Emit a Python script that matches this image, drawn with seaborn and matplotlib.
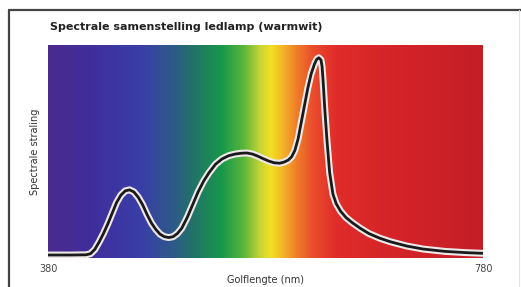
import numpy as np
import pandas as pd
import matplotlib.pyplot as plt
import matplotlib.patheffects as pe
from matplotlib.colors import LinearSegmentedColormap
from matplotlib.lines import Line2D
import seaborn as sns

## spectrum curve (wavelength in nm, relative radiance)
wavelength = [380, 400, 415, 419, 423, 427, 431, 435, 439, 443, 447, 451, 455, 459, 463,
              467, 471, 475, 479, 483, 487, 491, 495, 499, 503, 508, 513, 518, 523, 528,
              534, 540, 546, 552, 558, 563, 568, 573, 578, 583, 588, 593, 597, 601, 604,
              607, 610, 613, 616, 619, 622, 625, 627, 629, 631, 632, 633, 634.5, 636.5,
              639, 642, 645, 649, 654, 660, 667, 675, 685, 695, 710, 725, 745, 765, 780]
radiance = [0.014, 0.014, 0.015, 0.02, 0.04, 0.075, 0.115, 0.16, 0.21, 0.26, 0.295, 0.315,
            0.32, 0.31, 0.285, 0.25, 0.205, 0.165, 0.135, 0.112, 0.1, 0.096, 0.1, 0.115,
            0.14, 0.19, 0.25, 0.31, 0.36, 0.4, 0.44, 0.465, 0.48, 0.488, 0.492, 0.493,
            0.488, 0.478, 0.466, 0.455, 0.447, 0.445, 0.45, 0.46, 0.475, 0.505, 0.56, 0.64,
            0.72, 0.8, 0.865, 0.91, 0.932, 0.94, 0.93, 0.9, 0.83, 0.7, 0.554, 0.4, 0.3,
            0.255, 0.22, 0.19, 0.165, 0.14, 0.115, 0.093, 0.076, 0.056, 0.042, 0.031,
            0.025, 0.022]

## colour stops of the background rainbow
stop_nm = [380, 420, 465, 495, 518, 540, 560, 575, 585, 596, 608, 624, 645, 700, 780]
stop_colors = ["#4a2b8e", "#402e9c", "#3a3ea8", "#2e5a88", "#1f7a62", "#18984a", "#5ab63a",
               "#c6d435", "#f2e022", "#f4b428", "#f08028", "#ea4c2c", "#e02c2a", "#d42428",
               "#c41e26"]

x_ticks = [380, 780]
title = "Spectrale samenstelling ledlamp (warmwit)"
x_label = "Golflengte (nm)"
y_label = "Spectrale straling"

df = pd.DataFrame({"nm": wavelength, "value": radiance})

sns.set_theme(style="white")
plt.rcParams['font.family'] = ['DejaVu Sans']

fig = plt.figure(figsize=(5.21, 2.87), dpi=100)
ax = fig.add_axes([48 / 521, 1 - 258 / 287, 435 / 521, 213 / 287])

## rainbow background
lo, hi = stop_nm[0], stop_nm[-1]
cmap = LinearSegmentedColormap.from_list(
    "spec", [((n - lo) / (hi - lo), c) for n, c in zip(stop_nm, stop_colors)])
grad = np.linspace(0, 1, 512).reshape(1, -1)
ax.imshow(grad, cmap=cmap, aspect="auto", extent=(lo, hi, 0, 1), zorder=0)

## curve with light halo
sns.lineplot(data=df, x="nm", y="value", ax=ax, color="#1a1a1a", linewidth=2.0,
             zorder=3, path_effects=[pe.Stroke(linewidth=5.0, foreground="#efe8e8"), pe.Normal()])

ax.set_xlim(lo, hi)
ax.set_ylim(0, 1)
ax.set_xticks(x_ticks)
ax.set_xticklabels([str(t) for t in x_ticks], fontsize=7, color="#444444")
ax.set_yticks([])
ax.tick_params(axis="x", length=0, pad=4)
for s in ax.spines.values():
    s.set_visible(False)
ax.set_xlabel(x_label, fontsize=7, color="#333333", labelpad=1)
ax.set_ylabel(y_label, fontsize=7, color="#333333", labelpad=6)

fig.text(50 / 521, 1 - 27 / 287, title, fontsize=8, fontweight="bold", color="#222222",
         va="center", ha="left")

## outer frame
fig.add_artist(Line2D([9 / 521, 9 / 521], [0, 1 - 10 / 287], color="#444444", linewidth=1.6))
fig.add_artist(Line2D([9 / 521, 1], [1 - 10 / 287, 1 - 10 / 287], color="#444444", linewidth=1.6))
fig.add_artist(Line2D([519 / 521, 519 / 521], [0, 1 - 10 / 287], color="#e4e4e4", linewidth=0.8))

fig.savefig("out.png", dpi=100)
